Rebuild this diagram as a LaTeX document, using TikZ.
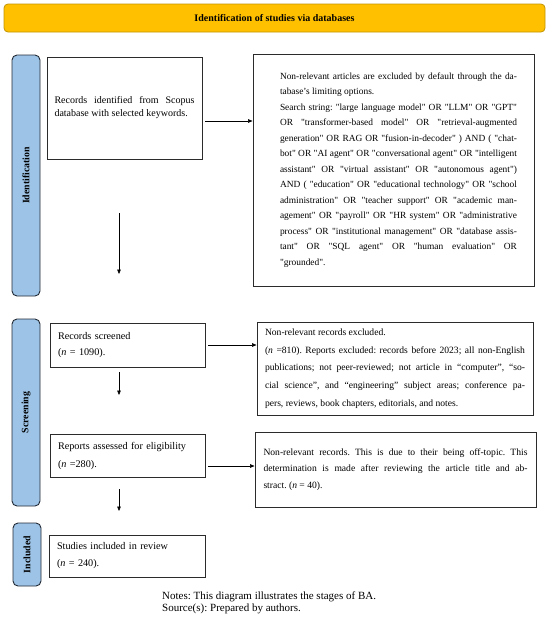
\documentclass[tikz,border=0pt]{standalone}
\usepackage{fontspec}
\setmainfont{Liberation Serif}[Ligatures=TeXOff]
\usetikzlibrary{arrows.meta,calc}
\definecolor{bannerfill}{HTML}{FFC000}
\definecolor{bannerline}{HTML}{C29400}
\definecolor{sidefill}{HTML}{9DC3E6}
\definecolor{sideline}{HTML}{222A35}
\definecolor{boxline}{HTML}{2B2B2B}
\begin{document}
\frenchspacing
\begin{tikzpicture}[x=1pt,y=-1pt,
  banner/.style={draw=bannerline, fill=bannerfill, rounded corners=4pt, line width=0.8pt,
    minimum width=541pt, minimum height=28pt, inner sep=0pt, font=\bfseries\fontsize{10}{12}\selectfont},
  sidebar/.style={draw=sideline, fill=sidefill, rounded corners=5pt, line width=0.9pt,
    rotate=90, minimum height=28pt, inner sep=0pt, font=\bfseries\fontsize{9.8}{11}\selectfont},
  box/.style={draw=boxline, line width=0.9pt, inner sep=0pt},
  arr/.style={-{Triangle[length=4.5pt,width=3.6pt]}, line width=0.6pt, draw=black}
]
\useasboundingbox (0,0) rectangle (550,622);

% banner
\node[banner] (ban) at (274.5,18) {Identification of studies via databases};

% side bars
\node[sidebar, minimum width=241pt] (idbar) at (26,175.5) {Identification};
\node[sidebar, minimum width=187pt] (scbar) at (26,412.5) {Screening};
\node[sidebar, minimum width=63pt] (inbar) at (27,554.5) {Included};

% left boxes
\node[box, minimum width=155pt, minimum height=102pt, text width=140pt, align=justify,
  font=\fontsize{10}{13}\selectfont] (rec) at (124.5,108)
  {Records identified from Scopus\linebreak database with selected keywords.};

\node[box, minimum width=155pt, minimum height=44pt, text width=139pt, align=left,
  font=\fontsize{10.2}{16}\selectfont] (scr) at (127.5,345)
  {Records screened\\(\textit{n} = 1090).};

\node[box, minimum width=155pt, minimum height=43pt, text width=139pt, align=left,
  font=\fontsize{10.2}{18}\selectfont] (rep) at (127.5,455.5)
  {Reports assessed for eligibility\\(\textit{n} =280).};

\node[box, minimum width=156pt, minimum height=42pt, text width=140pt, align=left,
  font=\fontsize{10.2}{17}\selectfont] (stu) at (127,556)
  {Studies included in review\\(\textit{n} = 240).};

% right boxes
\node[box, minimum width=281pt, minimum height=232pt, text width=247pt, align=justify,
  font=\fontsize{9.4}{15.5}\selectfont] (big) at (393.5,170)
  {\leftskip=10pt\tolerance=9999 Non-relevant articles are excluded by default through the da-\linebreak
  tabase’s limiting options.\par
  Search string: "large language model" OR "LLM" OR "GPT"\linebreak
  OR "transformer-based model" OR "retrieval-augmented\linebreak
  generation" OR RAG OR "fusion-in-decoder" ) AND ( "chat-\linebreak
  bot" OR "AI agent" OR "conversational agent" OR "intelligent\linebreak
  assistant" OR "virtual assistant" OR "autonomous agent")\linebreak
  AND ( "education" OR "educational technology" OR "school\linebreak
  administration" OR "teacher support" OR "academic man-\linebreak
  agement" OR "payroll" OR "HR system" OR "administrative\linebreak
  process" OR "institutional management" OR "database assis-\linebreak
  tant" OR "SQL agent" OR "human evaluation" OR\linebreak
  "grounded".\par};

\node[box, minimum width=276pt, minimum height=93pt, text width=260pt, align=justify,
  font=\fontsize{9.6}{17.8}\selectfont] (ex1) at (395,368.5)
  {\tolerance=9999 Non-relevant records excluded.\par
  (\textit{n} =810). Reports excluded: records before 2023; all non-English\linebreak
  publications; not peer-reviewed; not article in “computer”, “so-\linebreak
  cial science”, and “engineering” subject areas; conference pa-\linebreak
  pers, reviews, book chapters, editorials, and notes.\par};

\node[box, minimum width=281pt, minimum height=75pt, text width=264pt, align=justify,
  font=\fontsize{9.6}{16.5}\selectfont] (ex2) at (395.5,469.5)
  {\tolerance=9999 Non-relevant records. This is due to their being off-topic. This\linebreak
  determination is made after reviewing the article title and ab-\linebreak
  stract. (\textit{n} = 40).\par};

% notes
\node[anchor=north west, inner sep=0pt, align=left, font=\fontsize{11}{12}\selectfont] (notes) at (162,592)
  {Notes: This diagram illustrates the stages of BA.\\Source(s): Prepared by authors.};

% connectors
\coordinate (a1) at ([shift={(3,13)}]rec.east);
\draw[arr] (a1) -- (a1 -| big.west);
\coordinate (a2) at ([shift={(3,0)}]scr.east);
\draw[arr] (a2) -- (a2 -| ex1.west);
\coordinate (a3) at ([shift={(3,10.5)}]rep.east);
\draw[arr] (a3) -- (a3 -| ex2.west);

\coordinate (d1a) at (119,213);
\coordinate (d1b) at (119,274);
\draw[arr] (d1a) -- (d1b);
\coordinate (d2a) at (119,372);
\coordinate (d2b) at (119,395);
\draw[arr] (d2a) -- (d2b);
\coordinate (d3a) at (119,489);
\coordinate (d3b) at (119,511);
\draw[arr] (d3a) -- (d3b);
\end{tikzpicture}
\end{document}
